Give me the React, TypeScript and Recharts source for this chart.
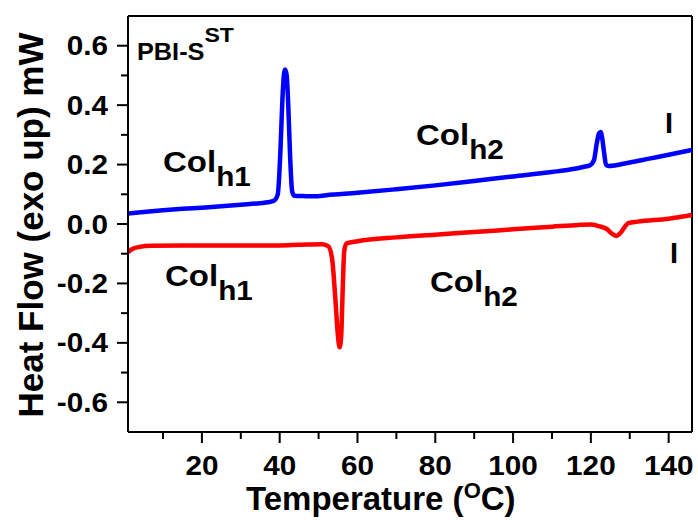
import React from 'react';
import {
  LineChart,
  Line,
  XAxis,
  YAxis,
  ReferenceLine,
  Customized,
} from 'recharts';

// heating trace (blue, exo up)
const heatTemp = [
  1, 5, 10, 15, 20, 25, 30, 35, 37, 38.5, 39.5, 40.2, 40.7, 41.1, 41.4, 41.8, 42.2, 42.7, 43.2,
  43.8, 46, 49, 52, 60, 70, 80, 90, 100, 110, 115, 118, 119.8, 120.8, 121.5, 122.1, 122.5, 122.9,
  123.4, 123.9, 124.5, 130, 135, 140, 146,
];
const heatFlow = [
  0.035, 0.04, 0.046, 0.051, 0.055, 0.06, 0.065, 0.07, 0.073, 0.078, 0.1, 0.25, 0.42, 0.505, 0.52,
  0.5, 0.4, 0.22, 0.11, 0.095, 0.094, 0.093, 0.097, 0.105, 0.117, 0.13, 0.145, 0.16, 0.175, 0.184,
  0.192, 0.198, 0.215, 0.27, 0.305, 0.31, 0.29, 0.24, 0.2, 0.195, 0.207, 0.22, 0.233, 0.249,
];

// cooling trace (red)
const coolTemp = [
  1, 2, 4, 7, 15, 30, 40, 45, 51, 52.5, 53.5, 54.3, 55, 55.4, 55.8, 56.2, 56.6, 57.2, 60, 70, 80,
  90, 100, 110, 117, 120, 122, 124, 125.5, 126.6, 127.6, 128.6, 129.6, 132, 140, 146,
];
const coolFlow = [
  -0.095, -0.085, -0.077, -0.073, -0.072, -0.072, -0.072, -0.07, -0.068, -0.075, -0.12, -0.25,
  -0.38, -0.415, -0.38, -0.22, -0.09, -0.065, -0.058, -0.045, -0.036, -0.027, -0.018, -0.009,
  -0.003, -0.002, -0.007, -0.016, -0.033, -0.04, -0.03, -0.012, 0.003, 0.008, 0.018, 0.03,
];

const xMajor = [20, 40, 60, 80, 100, 120, 140];
const xMinor = [10, 30, 50, 70, 90, 110, 130];
const yMajor = [-0.6, -0.4, -0.2, 0, 0.2, 0.4, 0.6];
const yMinor = [-0.5, -0.3, -0.1, 0.1, 0.3, 0.5];

const heatData = heatTemp.map((t, i) => ({ t, v: heatFlow[i] }));
const coolData = coolTemp.map((t, i) => ({ t, v: coolFlow[i] }));

const FONT = '"Liberation Sans", Arial, sans-serif';
const X_DOMAIN: [number, number] = [1, 146];
const Y_DOMAIN: [number, number] = [-0.7, 0.7];
const WIDE = 1.1; // reference text is drawn a bit wider than Liberation Sans

const XTick = (props: any) => {
  const { x, y, payload } = props;
  const major = xMajor.includes(payload.value);
  return (
    <g>
      <line x1={x} x2={x} y1={y} y2={y + (major ? 11 : 7)} stroke="#000" strokeWidth={2} />
      {major && (
        <text
          transform={`translate(${x}, ${y + 43}) scale(${WIDE}, 1)`}
          textAnchor="middle"
          fontFamily={FONT}
          fontWeight="bold"
          fontSize={27}
          fill="#000"
        >
          {payload.value}
        </text>
      )}
    </g>
  );
};

const YTick = (props: any) => {
  const { x, y, payload } = props;
  const major = yMajor.some((m) => Math.abs(m - payload.value) < 1e-6);
  return (
    <g>
      <line x1={x - (major ? 11 : 7)} x2={x} y1={y} y2={y} stroke="#000" strokeWidth={2} />
      {major && (
        <text
          transform={`translate(${x - 20}, ${y + 9.5}) scale(${WIDE}, 1)`}
          textAnchor="end"
          fontFamily={FONT}
          fontWeight="bold"
          fontSize={27}
          fill="#000"
        >
          {payload.value.toFixed(1)}
        </text>
      )}
    </g>
  );
};

const Phase = ({ x, y, sub }: { x: number; y: number; sub: string }) => (
  <text
    transform={`translate(${x}, ${y}) scale(${WIDE}, 1)`}
    fontFamily={FONT}
    fontWeight="bold"
    fontSize={30}
    fill="#000"
  >
    Col
    <tspan dy={14} fontSize={27}>
      {sub}
    </tspan>
  </text>
);

const Annotations = () => (
  <g>
    <text
      transform={`translate(137, 60) scale(${WIDE}, 1)`}
      fontFamily={FONT}
      fontWeight="bold"
      fontSize={23}
      fill="#000"
    >
      PBI-S
      <tspan dy={-18} fontSize={21}>
        ST
      </tspan>
    </text>
    <Phase x={163} y={172} sub="h1" />
    <Phase x={165} y={286} sub="h1" />
    <Phase x={416} y={145} sub="h2" />
    <Phase x={430} y={292} sub="h2" />
    <text x={665} y={133} fontFamily={FONT} fontWeight="bold" fontSize={29} fill="#000">
      I
    </text>
    <text x={670} y={263} fontFamily={FONT} fontWeight="bold" fontSize={29} fill="#000">
      I
    </text>
    <text x={246} y={510} fontFamily={FONT} fontWeight="bold" fontSize={33} fill="#000">
      Temperature (
      <tspan dy={-12} fontSize={22}>
        O
      </tspan>
      <tspan dy={12}>C)</tspan>
    </text>
    <text
      x={43}
      y={225}
      transform="rotate(-90, 43, 225)"
      textAnchor="middle"
      fontFamily={FONT}
      fontWeight="bold"
      fontSize={35}
      fill="#000"
    >
      Heat Flow (exo up) mW
    </text>
  </g>
);

export default function App() {
  return (
    <div style={{ position: 'absolute', left: 0, top: 0, background: '#fff' }}>
      <LineChart width={698} height={520} margin={{ top: 16, right: 6, left: 0, bottom: 0 }}>
        <XAxis
          type="number"
          dataKey="t"
          domain={X_DOMAIN}
          ticks={[...xMinor, ...xMajor].sort((a, b) => a - b)}
          tick={<XTick />}
          tickLine={false}
          tickSize={0}
          tickMargin={0}
          height={88}
          axisLine={{ stroke: '#000', strokeWidth: 2 }}
          allowDataOverflow
        />
        <YAxis
          type="number"
          dataKey="v"
          domain={Y_DOMAIN}
          ticks={[...yMinor, ...yMajor].sort((a, b) => a - b)}
          tick={<YTick />}
          tickLine={false}
          tickSize={0}
          tickMargin={0}
          width={128}
          axisLine={{ stroke: '#000', strokeWidth: 2 }}
          allowDataOverflow
        />
        <ReferenceLine y={0.7} stroke="#000" strokeWidth={2} ifOverflow="extendDomain" />
        <ReferenceLine x={146} stroke="#000" strokeWidth={2} ifOverflow="extendDomain" />
        <Line
          data={heatData}
          dataKey="v"
          type="monotone"
          stroke="#0000ff"
          strokeWidth={4.5}
          dot={false}
          isAnimationActive={false}
        />
        <Line
          data={coolData}
          dataKey="v"
          type="monotone"
          stroke="#ff0000"
          strokeWidth={4.5}
          dot={false}
          isAnimationActive={false}
        />
        <Customized component={Annotations} />
      </LineChart>
    </div>
  );
}
